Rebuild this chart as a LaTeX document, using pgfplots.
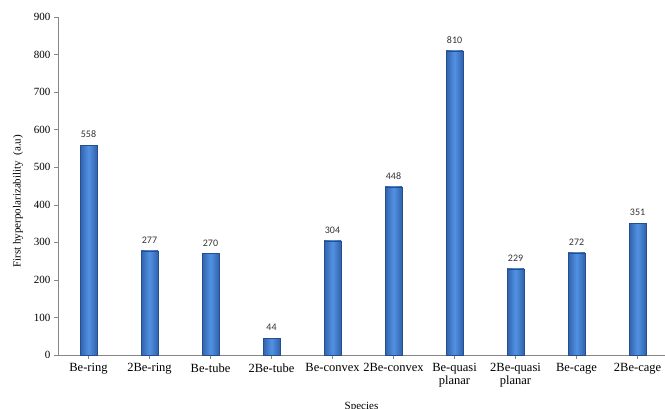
\documentclass[border=0pt]{standalone}
\usepackage{pgfplots}
\pgfplotsset{compat=1.18}
\usepackage{fontspec}
\setmainfont{Liberation Serif}
\newfontfamily\labfont{Carlito}
\definecolor{axgray}{RGB}{134,134,134}
\definecolor{bardark}{RGB}{48,98,172}
\definecolor{barmid}{RGB}{82,146,226}
\definecolor{baredge}{RGB}{38,78,140}
\begin{document}
\begin{tikzpicture}
\useasboundingbox (0,0) rectangle (665pt,409pt);
\begin{axis}[
  at={(58pt,54pt)}, anchor=south west,
  scale only axis, width=607pt, height=338pt,
  xmin=-0.5, xmax=9.45, ymin=0, ymax=900,
  axis x line*=bottom, axis y line*=left,
  axis line style={axgray},
  every tick/.style={axgray},
  tick align=outside, major tick length=4pt,
  ytick={0,100,...,900},
  xtick={0,...,9},
  xticklabels={Be-ring,2Be-ring,Be-tube,2Be-tube,Be-convex,2Be-convex,{Be-quasi\\planar},{2Be-quasi\\planar},Be-cage,2Be-cage},
  x tick label style={font=\fontsize{12.5}{13}\selectfont, align=center, yshift=-1pt},
  y tick label style={font=\fontsize{11}{12}\selectfont},
  /pgf/number format/assume math mode=true,
  ylabel={First hyperpolarizability\ \ (a.u)},
  ylabel style={font=\fontsize{11}{12}\selectfont},
  every axis y label/.append style={at={(axis description cs:-0.066,0.455)}, anchor=center},
  xlabel={Species},
  xlabel style={font=\fontsize{11}{12}\selectfont},
  every axis x label/.append style={at={(axis description cs:0.5,0)}, anchor=north, yshift=-44pt},
  ybar, bar width=17pt, bar shift=0pt,
  nodes near coords,
  every node near coord/.append style={font=\labfont\fontsize{10}{11}\selectfont, /pgf/number format/assume math mode=true, yshift=4pt, black!80},
  clip=false,
  barstyle/.style={draw=baredge, left color=bardark, right color=bardark, middle color=barmid, line width=0.3pt},
]
\addplot[barstyle] coordinates {(0,558)};
\addplot[barstyle] coordinates {(1,277)};
\addplot[barstyle] coordinates {(2,270)};
\addplot[barstyle] coordinates {(3,44)};
\addplot[barstyle] coordinates {(4,304)};
\addplot[barstyle] coordinates {(5,448)};
\addplot[barstyle] coordinates {(6,810)};
\addplot[barstyle] coordinates {(7,229)};
\addplot[barstyle] coordinates {(8,272)};
\addplot[barstyle] coordinates {(9,351)};
\end{axis}
\end{tikzpicture}
\end{document}
